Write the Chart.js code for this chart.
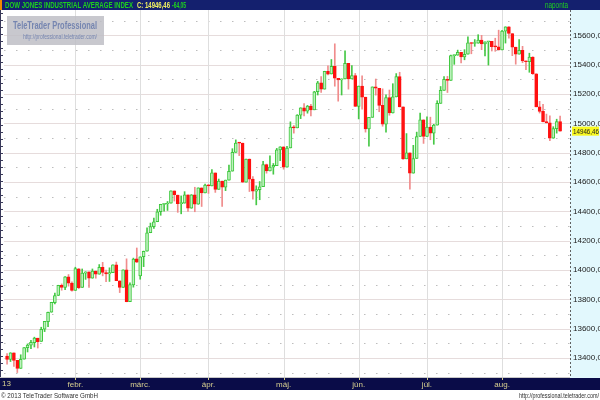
<!DOCTYPE html>
<html>
<head>
<meta charset="utf-8">
<script src="https://cdn.jsdelivr.net/npm/chart.js@4.4.0/dist/chart.umd.min.js"></script>
<style>
  html, body { margin: 0; padding: 0; background: #fff; }
</style>
</head>
<body>
<canvas id="chart" width="600" height="400"></canvas>
<script>
// DJIA napi gyertyák, 2013.01.03 - 2013.08.26
const dates = [
  "01-03","01-04","01-07","01-08","01-09","01-10","01-11","01-14","01-15","01-16","01-17","01-18","01-22","01-23","01-24","01-25","01-28","01-29","01-30","01-31",
  "02-01","02-04","02-05","02-06","02-07","02-08","02-11","02-12","02-13","02-14","02-15","02-19","02-20","02-21","02-22","02-25","02-26","02-27","02-28",
  "03-01","03-04","03-05","03-06","03-07","03-08","03-11","03-12","03-13","03-14","03-15","03-18","03-19","03-20","03-21","03-22","03-25","03-26","03-27","03-28",
  "04-01","04-02","04-03","04-04","04-05","04-08","04-09","04-10","04-11","04-12","04-15","04-16","04-17","04-18","04-19","04-22","04-23","04-24","04-25","04-26","04-29","04-30",
  "05-01","05-02","05-03","05-06","05-07","05-08","05-09","05-10","05-13","05-14","05-15","05-16","05-17","05-20","05-21","05-22","05-23","05-24","05-28","05-29","05-30","05-31",
  "06-03","06-04","06-05","06-06","06-07","06-10","06-11","06-12","06-13","06-14","06-17","06-18","06-19","06-20","06-21","06-24","06-25","06-26","06-27","06-28",
  "07-01","07-02","07-03","07-05","07-08","07-09","07-10","07-11","07-12","07-15","07-16","07-17","07-18","07-19","07-22","07-23","07-24","07-25","07-26","07-29","07-30","07-31",
  "08-01","08-02","08-05","08-06","08-07","08-08","08-09","08-12","08-13","08-14","08-15","08-16","08-19","08-20","08-21","08-22","08-23","08-26"
];
const opens = [
  13413,13391,13436,13384,13329,13392,13471,13488,13504,13535,13513,13597,13648,13712,13777,13826,13896,13882,13953,13910,
  13861,14008,13881,13978,13987,13944,13993,13971,14019,13983,13973,13982,14036,13926,13881,14001,13784,13898,14076,
  13960,14090,14128,14254,14296,14329,14397,14447,14450,14455,14539,14511,14452,14456,14512,14421,14512,14448,14560,14526,
  14579,14573,14662,14550,14606,14565,14613,14674,14802,14866,14865,14599,14757,14619,14537,14548,14568,14719,14676,14701,14712,14819,
  14840,14701,14832,14974,14969,15056,15105,15083,15118,15092,15215,15276,15233,15354,15336,15388,15307,15295,15303,15409,15303,15325,
  15116,15254,15178,14961,15041,15248,15239,15122,14995,15176,15070,15180,15318,15112,14758,14799,14660,14760,14910,15024,
  14910,14975,14932,14988,15136,15225,15300,15292,15461,15464,15484,15452,15471,15549,15544,15546,15568,15542,15556,15559,15522,15521,
  15500,15628,15658,15612,15519,15471,15498,15426,15420,15451,15338,15112,15081,15011,15003,14898,14964,15011
];
const highs = [
  13430,13436,13436,13384,13422,13471,13496,13520,13542,13535,13610,13650,13713,13780,13843,13896,13905,13955,13969,13920,
  14019,14010,14007,13988,13987,14007,13993,14037,14052,13999,14015,14036,14054,13926,14001,14076,13912,14081,14150,
  14090,14129,14287,14320,14354,14414,14448,14455,14467,14540,14539,14511,14505,14534,14512,14514,14564,14560,14560,14585,
  14583,14684,14662,14620,14606,14613,14716,14827,14887,14866,14865,14757,14757,14636,14574,14603,14741,14722,14778,14726,14829,14840,
  14840,14843,15010,14985,15059,15106,15134,15122,15130,15218,15286,15318,15355,15392,15435,15542,15307,15303,15494,15409,15394,15340,
  15254,15324,15178,15041,15248,15302,15239,15235,15194,15227,15270,15339,15348,15112,14930,14799,14850,14940,15069,15024,
  15044,15042,14993,15154,15251,15319,15320,15466,15466,15499,15484,15502,15590,15549,15571,15604,15600,15556,15559,15559,15580,15635,
  15634,15658,15659,15612,15519,15570,15525,15426,15478,15454,15338,15150,15129,15063,15051,14977,15028,15049
];
const lows = [
  13358,13376,13343,13301,13329,13392,13441,13463,13475,13468,13513,13580,13614,13712,13769,13826,13862,13866,13890,13856,
  13861,13872,13881,13936,13881,13944,13944,13971,13960,13921,13922,13982,13927,13846,13881,13783,13784,13883,14051,
  13937,14023,14128,14254,14284,14329,14373,14401,14406,14455,14470,14393,14383,14456,14400,14421,14397,14448,14433,14526,
  14522,14573,14529,14550,14434,14541,14613,14674,14802,14780,14596,14599,14535,14483,14444,14479,14568,14660,14676,14653,14712,14745,
  14687,14701,14832,14933,14969,15032,15051,15069,15051,15092,15193,15210,15233,15330,15336,15253,15151,15193,15303,15233,15303,15115,
  15030,15097,14940,14844,15041,15192,15079,14980,14939,15055,15070,15180,15112,14754,14758,14551,14660,14760,14910,14863,
  14910,14888,14857,14988,15136,15225,15210,15292,15402,15464,15412,15433,15471,15474,15525,15546,15502,15460,15397,15493,15491,15499,
  15500,15547,15580,15461,15403,15471,15413,15365,15348,15333,15112,15070,15010,15002,14881,14898,14933,14946
];
const closes = [
  13391,13435,13384,13329,13391,13471,13488,13507,13535,13511,13596,13650,13712,13779,13825,13896,13882,13954,13910,13861,
  14010,13880,13979,13987,13944,13993,13971,14019,13983,13973,13982,14036,13928,13881,14001,13784,13900,14075,14054,
  14090,14128,14254,14296,14329,14397,14447,14450,14455,14539,14514,14452,14456,14512,14421,14512,14448,14560,14526,14579,
  14573,14662,14550,14606,14565,14613,14673,14802,14865,14865,14599,14757,14619,14537,14548,14567,14719,14676,14701,14713,14819,14840,
  14701,14832,14974,14969,15056,15105,15083,15118,15092,15215,15276,15233,15354,15335,15388,15307,15295,15303,15409,15303,15325,15116,
  15254,15178,14961,15041,15248,15239,15122,14995,15176,15070,15180,15318,15112,14758,14799,14660,14760,14910,15024,14910,
  14975,14932,14988,15136,15225,15300,15292,15461,15464,15484,15452,15471,15549,15544,15546,15568,15542,15556,15559,15522,15521,15500,
  15628,15658,15612,15519,15471,15498,15426,15420,15451,15338,15112,15081,15011,15003,14898,14964,15011,14946
];
const monthNames = ["13", "febr.", "márc.", "ápr.", "máj.", "jún.", "júl.", "aug."];
const yTicks = [13400, 13600, 13800, 14000, 14200, 14400, 14600, 14800, 15000, 15200, 15400, 15600];

const lastClose = 14946.46;
const change = -64.05;

// hónapkezdő indexek a dátumokból
const monthStarts = [];
dates.forEach((d, i) => {
  if (i > 0 && d.slice(0, 2) !== dates[i - 1].slice(0, 2)) monthStarts.push(i);
});

const NARROW = '"Liberation Sans Narrow", "Liberation Sans", Arial, sans-serif';
const NAVY_TOP = "#14206e";
const NAVY_BOT = "#0a0c48";
const hu = v => v.toFixed(2).replace(".", ",");
const isUp = i => closes[i] >= opens[i];

const frame = {
  id: "frame",
  beforeDraw(chart) {
    const c = chart.ctx;
    const a = chart.chartArea;
    const ys = chart.scales.y;
    const xs = chart.scales.x;
    c.save();
    c.fillStyle = "#fff";
    c.fillRect(0, 0, 600, 400);

    // jobb oldali skála panel
    c.fillStyle = "#e2f8fd";
    c.fillRect(a.right, a.top, 600 - a.right, a.bottom - a.top + 1);

    // rácsvonalak
    for (let v = 13300; v <= 15700; v += 100) {
      const y = Math.round(ys.getPixelForValue(v)) + 0.5;
      c.beginPath();
      if (v % 200 === 0) {
        c.strokeStyle = "#e6dcdc";
        c.setLineDash([]);
      } else {
        c.strokeStyle = "#bdbdbd";
        c.setLineDash([1.5, 10.5]);
      }
      c.lineWidth = 1;
      c.moveTo(a.left, y);
      c.lineTo(a.right, y);
      c.stroke();
    }
    c.setLineDash([]);
    c.strokeStyle = "#dedede";
    monthStarts.forEach(i => {
      const x = Math.round(xs.getPixelForValue(i)) + 0.5;
      c.beginPath();
      c.moveTo(x, a.top);
      c.lineTo(x, a.bottom);
      c.stroke();
    });

    // bal oldali vonalzó
    c.fillStyle = "#3a3a5a";
    c.fillRect(0, a.top, 1, a.bottom - a.top);
    for (let y = a.top + 3; y < a.bottom; y += 7) c.fillRect(1, y, 2, 1);

    // skála panel szaggatott határ
    c.fillStyle = "#606060";
    for (let y = a.top; y < a.bottom; y += 4) c.fillRect(a.right, y, 1, 2);

    // felső sáv
    c.fillStyle = NAVY_TOP;
    c.fillRect(0, 0, 600, a.top);
    c.fillStyle = "#f08a00";
    c.fillRect(0, 0, 2, a.top);
    c.textBaseline = "middle";
    c.font = "bold 9px " + NARROW;
    c.fillStyle = "#1ed21e";
    c.fillText("DOW JONES INDUSTRIAL AVERAGE INDEX", 5, 5.5, 128);
    c.fillStyle = "#f0f060";
    c.fillText("C: " + hu(lastClose), 137, 5.5, 33);
    c.fillStyle = "#1ed21e";
    c.fillText(hu(change), 172, 5.5, 14);
    c.font = "9px " + NARROW;
    c.fillText("naponta", 545, 5.5, 23);

    // alsó sáv
    c.fillStyle = NAVY_BOT;
    c.fillRect(0, a.bottom + 1, 600, 390 - a.bottom - 1);
    c.fillStyle = "#c8c8c8";
    c.fillRect(0, a.bottom, a.right, 1);
    c.fillStyle = "#d8d090";
    monthStarts.forEach(i => {
      const x = Math.round(xs.getPixelForValue(i));
      c.fillRect(x, a.bottom + 1, 1, 2);
    });
    c.font = "8px " + NARROW;
    c.textAlign = "left";
    c.fillText(monthNames[0], 2, 384);

    // lábléc
    c.fillStyle = "#303030";
    c.font = "8px " + NARROW;
    c.fillText("© 2013 TeleTrader Software GmbH", 1, 395.5, 97);
    c.textAlign = "right";
    c.fillText("http://professional.teletrader.com/", 599, 395.5, 80);
    c.restore();
  },
  afterDraw(chart) {
    const c = chart.ctx;
    const a = chart.chartArea;
    const ys = chart.scales.y;
    c.save();
    // vízjel doboz
    c.fillStyle = "rgba(190,190,198,0.85)";
    c.fillRect(7, 16, 97, 29);
    c.textBaseline = "middle";
    c.textAlign = "left";
    c.fillStyle = "#7585b0";
    c.font = "bold 11px " + NARROW;
    c.fillText("TeleTrader Professional", 13, 26, 84);
    c.font = "7px " + NARROW;
    c.fillText("http://professional.teletrader.com/", 23, 37, 74);

    // utolsó érték címke
    const y = ys.getPixelForValue(lastClose);
    c.fillStyle = "#f8f820";
    c.fillRect(a.right + 2, y - 4.5, 27, 9);
    c.fillStyle = "#202020";
    c.font = "8px " + NARROW;
    c.fillText(hu(lastClose), a.right + 3, y + 0.5, 26);
    c.restore();
  }
};

new Chart(document.getElementById("chart"), {
  type: "bar",
  data: {
    datasets: [
      {
        label: "wick",
        data: dates.map((d, i) => ({ x: i, y: [lows[i], highs[i]] })),
        backgroundColor: ctx => (isUp(ctx.dataIndex) ? "#46c846" : "#f08c8c"),
        barThickness: 1,
        minBarLength: 1,
        grouped: false,
        borderSkipped: false,
        order: 2
      },
      {
        label: "body",
        data: dates.map((d, i) => ({
          x: i,
          y: [Math.min(opens[i], closes[i]), Math.max(opens[i], closes[i])]
        })),
        backgroundColor: ctx => (isUp(ctx.dataIndex) ? "#bff0bf" : "#ff1010"),
        borderColor: ctx => (isUp(ctx.dataIndex) ? "#3cc83c" : "#ff1010"),
        borderWidth: 1,
        barThickness: 3,
        minBarLength: 1,
        grouped: false,
        borderSkipped: false,
        order: 1
      }
    ]
  },
  options: {
    responsive: false,
    animation: false,
    layout: { padding: { top: 10, left: 4, right: 0, bottom: 10 } },
    plugins: { legend: { display: false }, tooltip: { enabled: false } },
    scales: {
      x: {
        type: "linear",
        min: -0.9,
        max: 164.9,
        offset: false,
        grid: { display: false, drawTicks: false },
        border: { display: false },
        afterBuildTicks: s => { s.ticks = monthStarts.map(v => ({ value: v })); },
        afterFit: s => { s.height = 13; },
        ticks: {
          autoSkip: false,
          maxRotation: 0,
          padding: 3,
          color: "#d8d090",
          font: { family: NARROW, size: 8 },
          callback: (v, idx) => monthNames[idx + 1]
        }
      },
      y: {
        position: "right",
        min: 13270.5,
        max: 15772.5,
        grid: { display: false, drawTicks: false },
        border: { display: false },
        afterBuildTicks: s => { s.ticks = yTicks.map(v => ({ value: v })); },
        afterFit: s => { s.width = 30; },
        ticks: {
          padding: 3,
          color: "#202020",
          font: { family: NARROW, size: 8 },
          callback: v => hu(v)
        }
      }
    }
  },
  plugins: [frame]
});
</script>
</body>
</html>
